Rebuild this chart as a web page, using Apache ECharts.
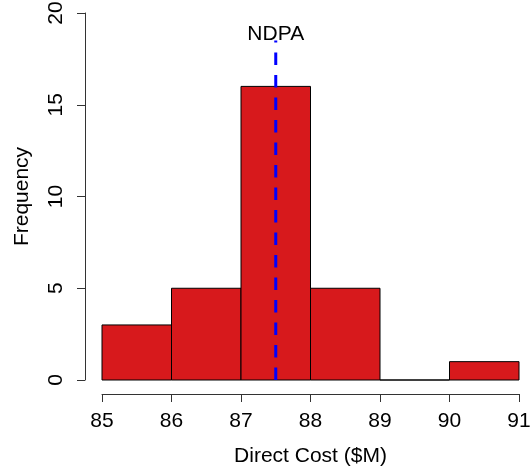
<!DOCTYPE html>
<html>
<head>
<meta charset="utf-8">
<script src="https://cdn.jsdelivr.net/npm/echarts@6/dist/echarts.min.js"></script>
<style>
html,body{margin:0;padding:0;background:#fff;}
#chart{width:530px;height:471px;}
</style>
</head>
<body>
<div id="chart"></div>
<script>
// Histogram bins (Direct Cost, $M) and frequencies
const binStarts = [85, 86, 87, 88, 89, 90];
const binEnds   = [86, 87, 88, 89, 90, 91];
const counts    = [3, 5, 16, 5, 0, 1];
// Reference line
const ndpaValue = 87.5;
const ndpaLineTop = 18.5;
const ndpaLabelY = 19;
const ndpaLabel = 'NDPA';
// Axis ticks
const xTicks = [85, 86, 87, 88, 89, 90, 91];
const yTicks = [0, 5, 10, 15, 20];
const xTitle = 'Direct Cost ($M)';
const yTitle = 'Frequency';

const FONT = '"Liberation Sans", Arial, Helvetica, sans-serif';
const histData = binStarts.map((s, i) => [s, binEnds[i], counts[i]]);

const chart = echarts.init(document.getElementById('chart'), null, {renderer: 'canvas'});
chart.setOption({
  animation: false,
  backgroundColor: '#ffffff',
  grid: {left: 102, right: 11, top: 13, bottom: 91, containLabel: false, outerBoundsMode: 'none'},
  xAxis: {
    type: 'value',
    min: xTicks[0], max: xTicks[xTicks.length - 1], interval: 1,
    offset: 14,
    name: xTitle, nameLocation: 'middle', nameGap: 52,
    nameTextStyle: {fontFamily: FONT, fontSize: 21, color: '#000'},
    axisLine: {show: true, onZero: false, lineStyle: {color: '#333', width: 1}},
    axisTick: {show: true, length: 8, lineStyle: {color: '#333'}},
    axisLabel: {fontFamily: FONT, fontSize: 21, color: '#000', margin: 17},
    splitLine: {show: false}
  },
  yAxis: {
    type: 'value',
    min: yTicks[0], max: yTicks[yTicks.length - 1], interval: 5,
    offset: 17,
    name: yTitle, nameLocation: 'middle', nameGap: 52, nameRotate: 90,
    nameTextStyle: {fontFamily: FONT, fontSize: 21, color: '#000'},
    axisLine: {show: true, onZero: false, lineStyle: {color: '#333', width: 1}},
    axisTick: {show: true, length: 8, lineStyle: {color: '#333'}},
    axisLabel: {fontFamily: FONT, fontSize: 21, color: '#000', margin: 18, rotate: 90},
    splitLine: {show: false}
  },
  series: [
    {
      type: 'custom',
      data: histData,
      encode: {x: [0, 1], y: 2},
      renderItem: function (params, api) {
        const p0 = api.coord([api.value(0), api.value(2)]);
        const p1 = api.coord([api.value(1), 0]);
        return {
          type: 'rect',
          shape: {x: p0[0], y: p0[1], width: p1[0] - p0[0], height: p1[1] - p0[1]},
          style: {fill: '#D7191C', stroke: '#000', lineWidth: 1}
        };
      },
      z: 2
    },
    {
      type: 'line',
      data: [[ndpaValue, 0], [ndpaValue, ndpaLineTop]],
      symbol: 'none',
      lineStyle: {color: '#0000FF', width: 3, type: [12.5, 10]},
      z: 5
    },
    {
      type: 'scatter',
      data: [[ndpaValue, ndpaLabelY]],
      symbolSize: 0,
      itemStyle: {opacity: 1, color: '#000'},
      label: {
        show: true, position: 'inside', formatter: ndpaLabel,
        fontFamily: FONT, fontSize: 21, color: '#000', offset: [0, 3],
        textBorderWidth: 0, opacity: 1
      },
      z: 6
    }
  ]
});
</script>
</body>
</html>
